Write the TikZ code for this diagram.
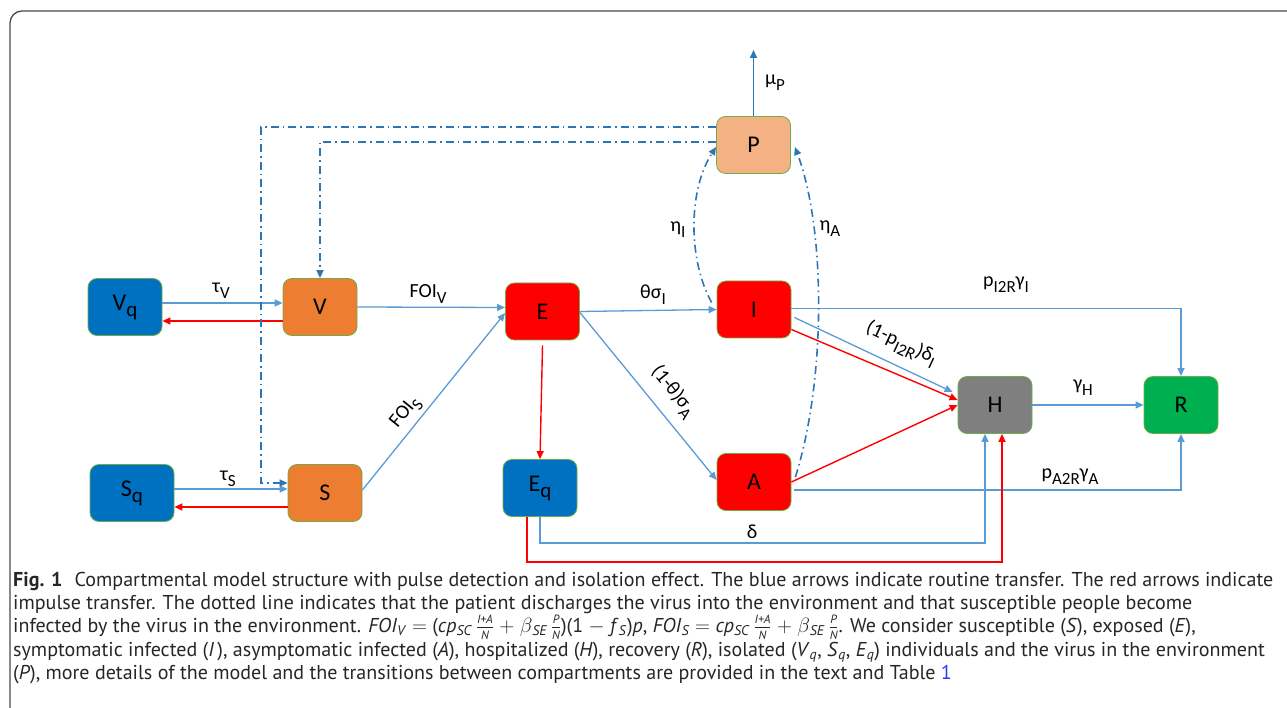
\documentclass[tikz,border=0pt]{standalone}
\usepackage{fontspec}
\setmainfont{Carlito}
\newfontfamily\capfont{PT Sans}
\usetikzlibrary{arrows.meta}
\definecolor{lineblue}{HTML}{5B9BD5}
\definecolor{darkblue}{HTML}{2E75B6}
\definecolor{ired}{HTML}{FF0000}
\definecolor{qblue}{HTML}{0070C0}
\definecolor{orng}{HTML}{ED7D31}
\definecolor{peach}{HTML}{F4B183}
\definecolor{hgray}{HTML}{7F7F7F}
\definecolor{rgreen}{HTML}{00B050}
\definecolor{bord}{HTML}{70AD47}
\definecolor{framecol}{HTML}{4A4A4A}
\definecolor{captext}{HTML}{262626}
\newcommand\sbs[1]{\raisebox{-0.3em}{\fontsize{17}{17}\selectfont #1}}
\newcommand\nsb[1]{\raisebox{-0.25em}{\fontsize{21}{21}\selectfont #1}}
\newcommand\fr[2]{$\frac{\mbox{\fontsize{12}{12}\selectfont\itshape #1}}{\mbox{\fontsize{12}{12}\selectfont\itshape #2}}$}
\newcommand\isub[2]{\textit{#1}\textsubscript{\textit{#2}}}
\begin{document}
\begin{tikzpicture}[x=1pt,y=-1pt,
  comp/.style={draw=bord, line width=0.8pt, rounded corners=9pt, minimum width=74pt, minimum height=57pt, inner sep=0pt, font=\fontsize{24}{24}\selectfont, text=black},
  tip/.style={-{Triangle[length=8pt,width=7pt]}},
  bl/.style={draw=lineblue, line width=1.3pt, tip},
  rd/.style={draw=ired, line width=1.4pt, tip},
  dd/.style={draw=darkblue, line width=1.6pt, dash pattern=on 8pt off 4pt on 1.5pt off 4pt, tip},
  lab/.style={font=\fontsize{20}{20}\selectfont, text=black, inner sep=0pt},
  captxt/.style={anchor=base west, inner sep=0pt, font=\capfont\fontsize{20.05}{23}\selectfont, text=captext}]
\useasboundingbox (0,0) rectangle (1287,708);
\draw[framecol, line width=1.3pt, rounded corners=12pt] (10,708) -- (10,11) -- (1287,11);

% compartments
\node[comp, fill=qblue] (Vq) at (125,307) {V\nsb{q}};
\node[comp, fill=orng] (V) at (320,307) {V};
\node[comp, fill=ired] (E) at (542.5,311.5) {E};
\node[comp, fill=ired] (I) at (754,309.5) {I};
\node[comp, fill=peach] (P) at (753.5,145) {P};
\node[comp, fill=hgray] (H) at (995,405) {H};
\node[comp, fill=rgreen] (R) at (1181,405) {R};
\node[comp, fill=ired] (A) at (754,482) {A};
\node[comp, fill=qblue] (Eq) at (540,488) {E\nsb{q}};
\node[comp, fill=orng] (S) at (325,493) {S};
\node[comp, fill=qblue, minimum width=84pt] (Sq) at (132,493) {S\nsb{q}};
\coordinate (Ptop) at (753.5,50);

% routine transfers
\draw[bl] ([yshift=4pt]Vq.east) -- ([yshift=4pt]V.west);
\draw[bl] (V.east) -- ([yshift=4pt]E.west);
\draw[bl] ([yshift=3pt]S.east) -- ([yshift=-1.5pt]E.west);
\draw[bl] ([yshift=4pt]Sq.east) -- ([yshift=4pt]S.west);
\draw[bl] (E.east) -- (I.west);
\draw[bl] ([yshift=-1pt]E.east) -- ([yshift=2pt]A.west);
\draw[bl] ([yshift=1pt]I.east) -| (R.north);
\draw[bl] ([xshift=3pt,yshift=-8pt]I.east) -- ([xshift=-5pt,yshift=13pt]H.west);
\draw[bl] (H.east) -- (R.west);
\draw[bl] ([xshift=3pt,yshift=-8pt]A.east) -| (R.south);
\draw[bl] (Eq.south) -- ++(0,26) -| ([xshift=-10pt]H.south);

% impulse transfers
\draw[rd] ([yshift=-14pt]V.west) -- ([yshift=-14pt]Vq.east);
\draw[rd] ([yshift=-14pt]S.west) -- ([yshift=-14pt]Sq.east);
\draw[rd] ([yshift=-5pt]E.south) -- (Eq.north);
\draw[rd] ([yshift=-20pt]I.east) -- ([yshift=5pt]H.west);
\draw[rd] (A.east) -- (H.west);
\draw[rd] ([xshift=-13pt]Eq.south) -- ++(0,45) -| ([xshift=7pt]H.south);

% environment
\draw[dd] ([xshift=-5pt,yshift=7pt]I.west) .. controls (688,260) and (688,190) .. ([yshift=-2pt]P.west);
\draw[dd] ([xshift=4pt,yshift=5pt]A.east) .. controls (826,380) and (826,230) .. ([xshift=4pt,yshift=-2pt]P.east);
\draw[dd] ([yshift=18pt]P.west) -- ++(-455,0) |- ([yshift=10pt]S.west);
\draw[dd] ([yshift=3pt]P.west) -| (V.north);
\draw[draw=darkblue, line width=1.6pt, tip] (P.north) -- (Ptop);

% labels
\node[lab] (lTV) at (221,291) {τ\sbs{V}};
\node[lab] (lFV) at (428,294) {FOI\sbs{V}};
\node[lab] (lTS) at (228,479) {τ\sbs{S}};
\node[lab, rotate=51] (lFS) at (406,413) {FOI\sbs{S}};
\node[lab] (lTI) at (653,295) {θσ\sbs{I}};
\node[lab, rotate=-51] (lTA) at (673,392) {(1-θ)σ\sbs{A}};
\node[lab] (lEI) at (678,230) {η\sbs{I}};
\node[lab] (lEA) at (830,229) {η\sbs{A}};
\node[lab] (lMP) at (775,83) {μ\sbs{P}};
\node[lab] (lPI) at (1006,285) {p\sbs{I2R}γ\sbs{I}};
\node[lab, rotate=-25] (lHI) at (901,344) {(1-p\sbs{I2R})δ\sbs{I}};
\node[lab] (lGH) at (1083,388) {γ\sbs{H}};
\node[lab] (lPA) at (1070,477) {p\sbs{A2R}γ\sbs{A}};
\node[lab] (lD) at (752,532) {δ};

% caption
\node[captxt] (c1) at (13,586) {\textbf{Fig. 1}\hspace{0.6em}Compartmental model structure with pulse detection and isolation effect. The blue arrows indicate routine transfer. The red arrows indicate};
\node[captxt] (c2) at (13,609) {impulse transfer. The dotted line indicates that the patient discharges the virus into the environment and that susceptible people become};
\node[captxt] (c3) at (13,632) {infected by the virus in the environment. \isub{FOI}{V} $=$ (\isub{cp}{SC}\,\fr{I+A}{N} $+$ $\beta$\textsubscript{\textit{SE}}\,\fr{P}{N})(1 $-$ \isub{f}{S})\textit{p}, \isub{FOI}{S} $=$ \isub{cp}{SC}\,\fr{I+A}{N} $+$ $\beta$\textsubscript{\textit{SE}}\,\fr{P}{N}. We consider susceptible (\textit{S}), exposed (\textit{E}),};
\node[captxt] (c4) at (13,656) {symptomatic infected (\textit{I}\,), asymptomatic infected (\textit{A}), hospitalized (\textit{H}), recovery (\textit{R}), isolated (\isub{V}{q}, \isub{S}{q}, \isub{E}{q}) individuals and the virus in the environment};
\node[captxt] (c5) at (13,679) {(\textit{P}), more details of the model and the transitions between compartments are provided in the text and Table \textcolor{blue!80}{1}};
\end{tikzpicture}
\end{document}
